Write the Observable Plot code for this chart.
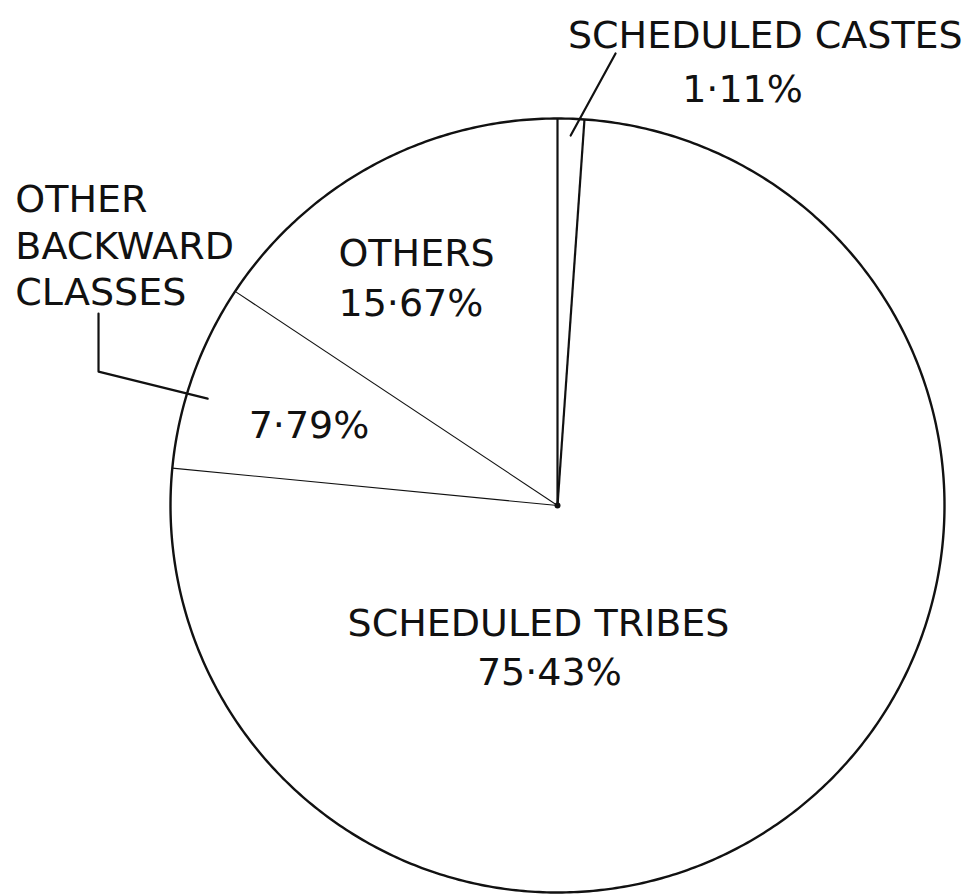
<!DOCTYPE html>
<html><head><meta charset="utf-8">
<script src="https://cdn.jsdelivr.net/npm/d3@7"></script>
<script src="https://cdn.jsdelivr.net/npm/@observablehq/plot@0.6"></script>
<style>html,body{margin:0;padding:0;background:#fff} svg{display:block}</style>
</head><body><div id="chart"></div>
<script>
// ---- data ----
const categories = ["SCHEDULED CASTES", "SCHEDULED TRIBES", "OTHER BACKWARD CLASSES", "OTHERS"];
const values = [1.11, 75.43, 7.79, 15.67];
const nameLines = [["SCHEDULED CASTES"], ["SCHEDULED TRIBES"], ["OTHER", "BACKWARD", "CLASSES"], ["OTHERS"]];

// ---- layout ----
const W = 977, H = 894, CX = 557, CY = 505, R = 387;
const FONT = "DejaVu Sans";
const fmt = v => d3.format(".2f")(v).replace(".", "·") + "%";

const arcs = d3.pie().sort(null).value(d => d)(values);
const pt = (a, r = 1) => ({x: r * Math.sin(a), y: r * Math.cos(a)});

// slice polygons and rim, sampled along each arc
const slices = [], rim = [];
arcs.forEach((a, i) => {
  const n = Math.max(2, Math.ceil((a.endAngle - a.startAngle) / 0.01));
  slices.push({...pt(0, 0), k: categories[i]});
  for (let j = 0; j <= n; j++) {
    const t = a.startAngle + (a.endAngle - a.startAngle) * j / n;
    const p = pt(t);
    slices.push({...p, k: categories[i]});
    rim.push({...p, k: categories[i]});
  }
  slices.push({...pt(0, 0), k: categories[i]});
});
const edges = arcs.map((a, i) => { const p = pt(a.startAngle); return {x1: 0, y1: 0, x2: p.x, y2: p.y, w: (i <= 1) ? 2.2 : 1.1}; });

// label placement (unit-circle coordinates)
const labelPos = [
  {name: [0.537, 1.220, "middle"], pct: [0.478, 1.080, "middle"]},
  {name: [-0.049, -0.300, "middle"], pct: [-0.021, -0.426, "middle"]},
  {name: [-1.401, 0.676, "start"], pct: [-0.798, 0.214, "start"]},
  {name: [-0.566, 0.656, "start"], pct: [-0.566, 0.527, "start"]}
];
const texts = [];
categories.forEach((c, i) => {
  const L = labelPos[i];
  texts.push({x: L.name[0], y: L.name[1], anchor: L.name[2], text: nameLines[i].join("\n")});
  texts.push({x: L.pct[0], y: L.pct[1], anchor: L.pct[2], text: fmt(values[i])});
});
const leaders = [
  [{x: 0.150, y: 1.168}, {x: 0.034, y: 0.956}],
  [{x: -1.186, y: 0.496}, {x: -1.186, y: 0.346}, {x: -0.904, y: 0.276}]
].flatMap((seg, i) => seg.map(p => ({...p, g: i})));

const textOpts = {x: "x", y: "y", text: "text", fontSize: 38, lineHeight: 1.22, fill: "#111", fontFamily: FONT};

const chart = Plot.plot({
  width: W, height: H, margin: 0,
  x: {domain: [-CX / R, (W - CX) / R], axis: null},
  y: {domain: [-(H - CY) / R, CY / R], axis: null},
  style: {background: "white", fontFamily: FONT},
  marks: [
    Plot.line(slices, {x: "x", y: "y", z: "k", fill: "white", stroke: "none"}),
    Plot.link(edges, {x1: "x1", y1: "y1", x2: "x2", y2: "y2", stroke: "#111", strokeWidth: "w"}),
    Plot.line(rim, {x: "x", y: "y", stroke: "#111", strokeWidth: 2.4}),
    Plot.dot([{x: 0, y: 0}], {x: "x", y: "y", r: 3, fill: "#111"}),
    Plot.line(leaders, {x: "x", y: "y", z: "g", stroke: "#111", strokeWidth: 2.2}),
    Plot.text(texts.filter(d => d.anchor === "middle"), {...textOpts, textAnchor: "middle"}),
    Plot.text(texts.filter(d => d.anchor === "start"), {...textOpts, textAnchor: "start"})
  ]
});
document.getElementById("chart").appendChild(chart);
</script>
</body></html>
